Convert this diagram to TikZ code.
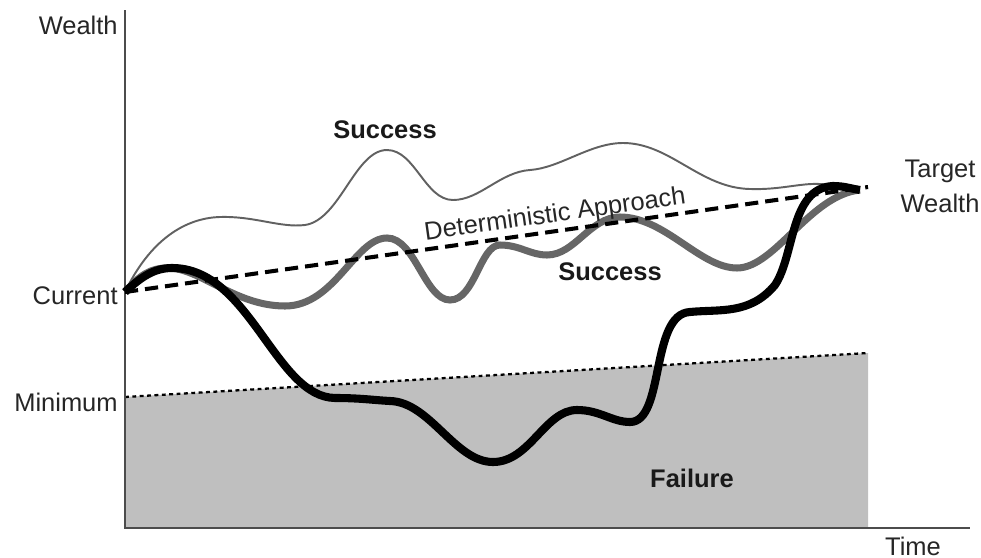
\documentclass[tikz,border=0pt]{standalone}
\usepackage{fontspec}
\setmainfont{Liberation Sans}
\begin{document}
\begin{tikzpicture}[x=0.02cm, y=-0.02cm,
  lbl/.style={font=\fontsize{14.5}{17}\selectfont, text=black!85, inner sep=0pt},
  blbl/.style={font=\fontsize{14.5}{17}\selectfont\bfseries, text=black!90, inner sep=0pt},
  axisline/.style={draw=black!70, line width=1.1pt},
  thinpath/.style={draw=black!62, line width=1.1pt},
  thickpath/.style={draw=black!60, line width=4pt},
  blackpath/.style={draw=black, line width=4.6pt},
  detline/.style={draw=black, line width=2.3pt, dash pattern=on 7.5pt off 4pt},
  minline/.style={draw=black, line width=1.3pt, dash pattern=on 2.2pt off 2pt}]
\useasboundingbox (0,0) rectangle (981,558);

% key points
\coordinate (cur) at (125,292);
\coordinate (tgt) at (868,187);
\coordinate (end) at (860,190);
\coordinate (minL) at (125,397);
\coordinate (minR) at (868,353);
\coordinate (axO) at (125,528);
\coordinate (axT) at (125,10);
\coordinate (axR) at (970,528);
\coordinate (failR) at (868,528);

% failure zone below the minimum
\fill[black!25] (minL) -- (minR) -- (failR) -- (axO) -- cycle;
\draw[minline] (minL) -- (minR);

% axes
\draw[axisline] (axT) -- (axO) -- (axR);

% upper success path
\draw[thinpath] (cur)
  .. controls (150,240) and (185,218) .. (220,217)
  .. controls (255,216) and (280,228) .. (305,225)
  .. controls (340,220) and (355,150) .. (387,150)
  .. controls (415,150) and (425,200) .. (453,200)
  .. controls (480,200) and (500,172) .. (530,170)
  .. controls (560,168) and (590,143) .. (623,143)
  .. controls (670,143) and (700,188) .. (750,189)
  .. controls (780,190) and (800,183) .. (820,184)
  .. controls (840,185) and (850,190) .. (end);

% lower success path
\draw[thickpath] (cur)
  .. controls (140,275) and (150,268) .. (168,268)
  .. controls (200,268) and (235,306) .. (285,306)
  .. controls (335,306) and (355,238) .. (387,238)
  .. controls (415,238) and (425,300) .. (450,300)
  .. controls (475,300) and (480,245) .. (500,245)
  .. controls (520,245) and (530,255) .. (547,255)
  .. controls (575,255) and (590,217) .. (620,217)
  .. controls (665,217) and (700,268) .. (737,268)
  .. controls (775,268) and (810,195) .. (end);

% deterministic approach
\draw[detline] (cur) -- (tgt);

% path that dips into failure
\draw[blackpath] (cur)
  .. controls (142,276) and (155,268) .. (172,268)
  .. controls (250,268) and (275,397) .. (335,398)
  .. controls (360,398) and (372,400) .. (390,401)
  .. controls (430,402) and (455,462) .. (493,462)
  .. controls (530,462) and (545,410) .. (577,410)
  .. controls (600,410) and (612,422) .. (630,422)
  .. controls (665,422) and (650,314) .. (690,312)
  .. controls (720,309) and (750,315) .. (775,285)
  .. controls (795,255) and (790,188) .. (833,186)
  .. controls (845,186) and (852,189) .. (end);

% labels
\node[lbl, anchor=east] (wealth) at (118,25) {Wealth};
\node[lbl, anchor=east] (current) at (118,296) {Current};
\node[lbl, anchor=east] (minimum) at (118,402) {Minimum};
\node[lbl] (time) at (913,546) {Time};
\node[lbl, align=center] (target) at (940,186) {Target\\[3pt]Wealth};
\node[blbl] (succ1) at (385,130) {Success};
\node[blbl] (succ2) at (610,272) {Success};
\node[blbl] (fail) at (692,478) {Failure};
\node[lbl, anchor=base, rotate=8] (det) at (556,222) {Deterministic Approach};
\end{tikzpicture}
\end{document}
